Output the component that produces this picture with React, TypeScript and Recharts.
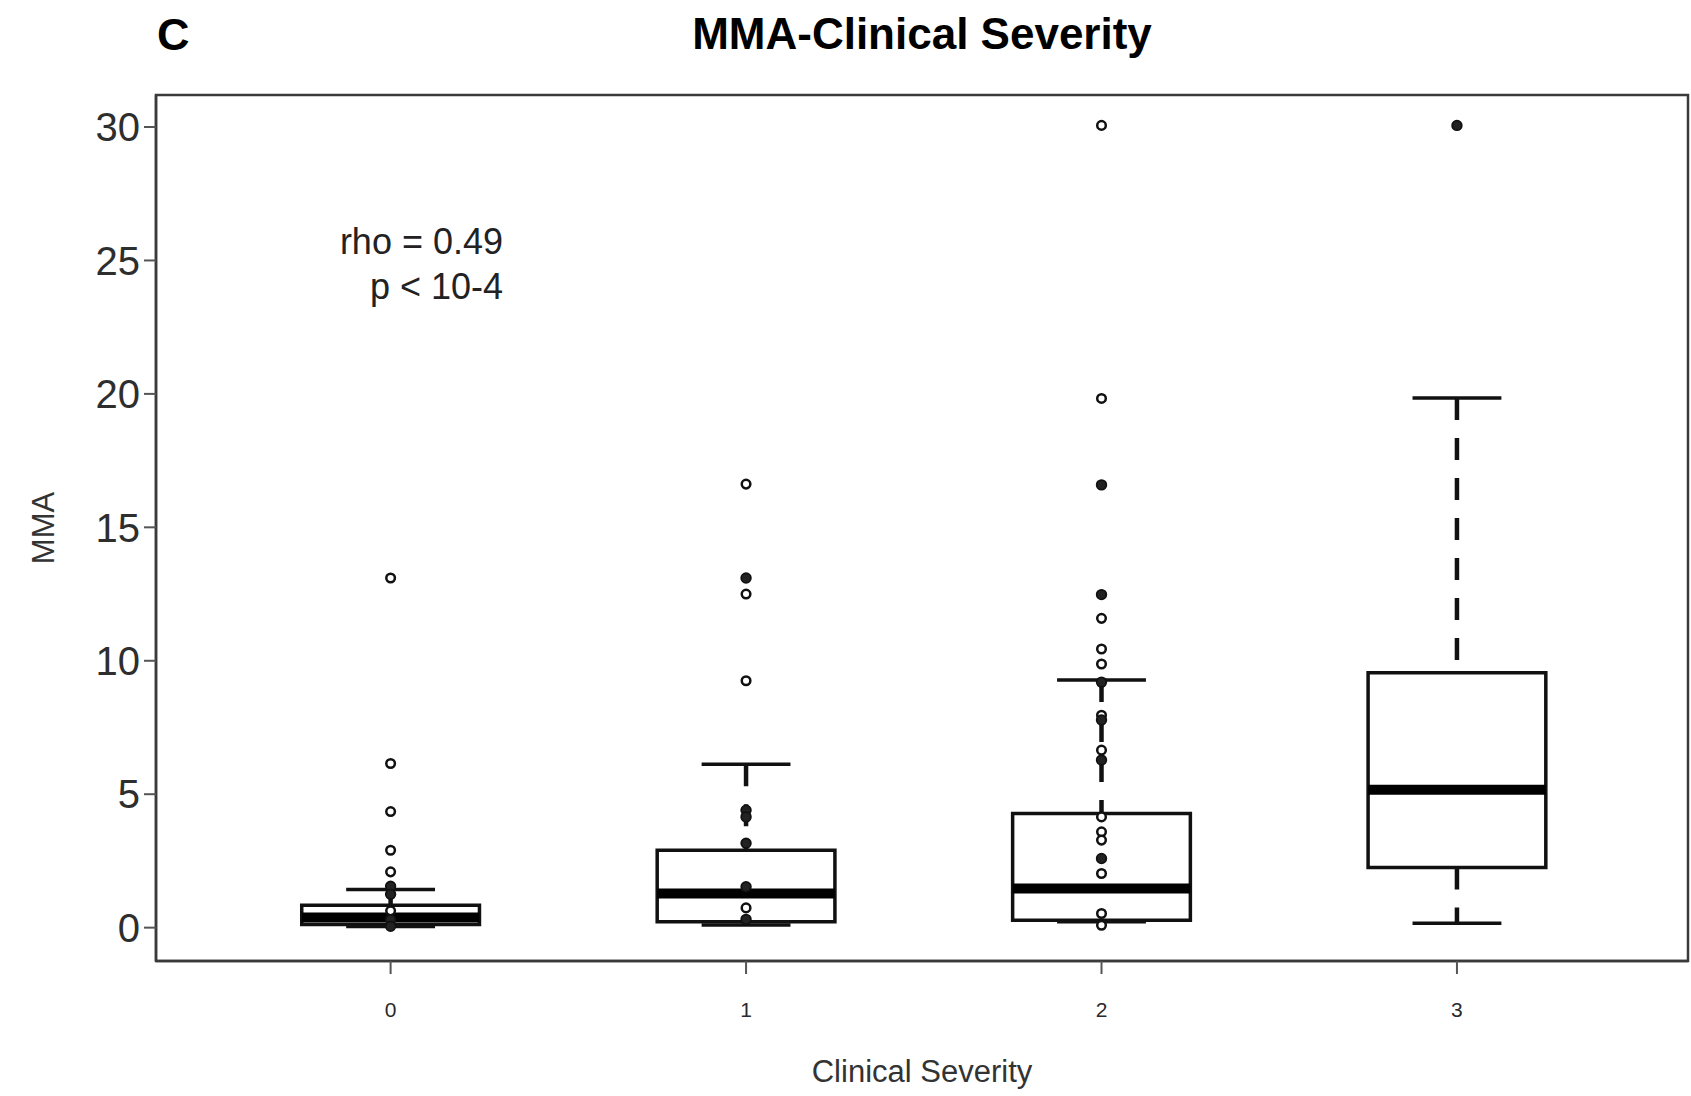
import {
  ComposedChart,
  XAxis,
  YAxis,
  Scatter,
  ReferenceArea,
  ReferenceLine,
} from "recharts";

// clinical severity groups
const categories = ["0", "1", "2", "3"];
const yTicks = [0, 5, 10, 15, 20, 25, 30];

// box statistics per group (MMA)
const lowerWhisker = [0.04, 0.1, 0.22, 0.16];
const q1 = [0.12, 0.22, 0.28, 2.25];
const median = [0.38, 1.28, 1.47, 5.17];
const q3 = [0.84, 2.9, 4.28, 9.55];
const upperWhisker = [1.43, 6.12, 9.28, 19.85];

// individual observations drawn over the boxes
const openPoints = [
  [13.1, 6.15, 4.35, 2.9, 2.09, 0.63],
  [16.62, 12.5, 9.25, 0.74],
  [30.06, 19.83, 11.59, 10.44, 9.88, 7.96, 6.65, 4.15, 3.59, 3.28, 2.03, 0.53, 0.09],
  [],
];
const solidPoints = [
  [1.55, 1.25, 0.3, 0.05],
  [13.1, 4.4, 4.15, 3.16, 1.53, 0.31],
  [16.59, 12.48, 9.2, 7.78, 6.28, 2.59],
  [30.06],
];

const X_DOMAIN: [number, number] = [-0.66, 3.65];
const Y_DOMAIN: [number, number] = [-1.25, 31.2];
const BOX_HALF = 0.25;
const CAP_HALF = 0.125;
const FONT = "'Liberation Sans', Arial, Helvetica, sans-serif";
const INK = "#111";

const toXY = (groups: number[][]) =>
  groups.flatMap((vals, i) => vals.map((v) => ({ x: i, y: v })));

const openData = toXY(openPoints);
const solidData = toXY(solidPoints);

export default function App() {
  return (
    <div
      style={{
        position: "absolute",
        left: 0,
        top: 0,
        width: 1691,
        height: 1096,
        background: "#fff",
      }}
    >
      <ComposedChart
        width={1691}
        height={1096}
        margin={{ top: 95, right: 3, bottom: 0, left: 0 }}
      >
        <XAxis
          type="number"
          dataKey="x"
          domain={X_DOMAIN}
          allowDataOverflow
          ticks={[0, 1, 2, 3]}
          tickFormatter={(v: number) => categories[v] ?? ""}
          height={135}
          tickSize={13}
          tickMargin={28}
          tick={{ fontSize: 21, fill: "#2a2a2a", fontFamily: FONT }}
          axisLine={{ stroke: "#3a3a3a", strokeWidth: 2.5 }}
          tickLine={{ stroke: "#555", strokeWidth: 2 }}
        />
        <YAxis
          type="number"
          dataKey="y"
          domain={Y_DOMAIN}
          allowDataOverflow
          ticks={yTicks}
          width={156}
          tickSize={12}
          tickMargin={4}
          tick={{ fontSize: 40, fill: "#2e2e2e", fontFamily: FONT }}
          axisLine={{ stroke: "#3a3a3a", strokeWidth: 2.5 }}
          tickLine={{ stroke: "#555", strokeWidth: 2 }}
        />

        {/* plot frame */}
        <ReferenceArea
          x1={X_DOMAIN[0]}
          x2={X_DOMAIN[1]}
          y1={Y_DOMAIN[0]}
          y2={Y_DOMAIN[1]}
          fill="none"
          stroke="#3a3a3a"
          strokeWidth={2.5}
          ifOverflow="visible"
        />

        {categories.map((_, i) => (
          <ReferenceArea
            key={`box-${i}`}
            x1={i - BOX_HALF}
            x2={i + BOX_HALF}
            y1={q1[i]}
            y2={q3[i]}
            fill="#fff"
            fillOpacity={1}
            stroke={INK}
            strokeWidth={3.5}
          />
        ))}

        {categories.map((_, i) => (
          <ReferenceLine
            key={`up-${i}`}
            segment={[
              { x: i, y: upperWhisker[i] },
              { x: i, y: q3[i] },
            ]}
            stroke={INK}
            strokeWidth={4.5}
            strokeDasharray="22 18"
          />
        ))}
        {categories.map((_, i) => (
          <ReferenceLine
            key={`lo-${i}`}
            segment={[
              { x: i, y: q1[i] },
              { x: i, y: lowerWhisker[i] },
            ]}
            stroke={INK}
            strokeWidth={4.5}
            strokeDasharray="22 18"
          />
        ))}
        {categories.map((_, i) => (
          <ReferenceLine
            key={`capu-${i}`}
            segment={[
              { x: i - CAP_HALF, y: upperWhisker[i] },
              { x: i + CAP_HALF, y: upperWhisker[i] },
            ]}
            stroke={INK}
            strokeWidth={3.5}
          />
        ))}
        {categories.map((_, i) => (
          <ReferenceLine
            key={`capl-${i}`}
            segment={[
              { x: i - CAP_HALF, y: lowerWhisker[i] },
              { x: i + CAP_HALF, y: lowerWhisker[i] },
            ]}
            stroke={INK}
            strokeWidth={3.5}
          />
        ))}
        {categories.map((_, i) => (
          <ReferenceLine
            key={`med-${i}`}
            segment={[
              { x: i - BOX_HALF, y: median[i] },
              { x: i + BOX_HALF, y: median[i] },
            ]}
            stroke="#000"
            strokeWidth={10}
          />
        ))}

        <Scatter
          data={openData}
          dataKey="y"
          isAnimationActive={false}
          shape={(p: any) => (
            <circle cx={p.cx} cy={p.cy} r={4.3} fill="#fff" stroke={INK} strokeWidth={2.5} />
          )}
        />
        <Scatter
          data={solidData}
          dataKey="y"
          isAnimationActive={false}
          shape={(p: any) => (
            <circle cx={p.cx} cy={p.cy} r={4.8} fill="#222" stroke={INK} strokeWidth={1.8} />
          )}
        />
      </ComposedChart>

      {/* titles and annotations */}
      <svg
        width={1691}
        height={1096}
        style={{ position: "absolute", left: 0, top: 0, pointerEvents: "none" }}
      >
        <text x={157} y={50} fontFamily={FONT} fontWeight="bold" fontSize={45} fill="#000">
          C
        </text>
        <text
          x={922}
          y={49}
          textAnchor="middle"
          fontFamily={FONT}
          fontWeight="bold"
          fontSize={44}
          fill="#000"
        >
          MMA-Clinical Severity
        </text>
        <text x={503} y={254} textAnchor="end" fontFamily={FONT} fontSize={36} fill="#222">
          rho = 0.49
        </text>
        <text x={503} y={299} textAnchor="end" fontFamily={FONT} fontSize={36} fill="#222">
          p &lt; 10-4
        </text>
        <text
          x={922}
          y={1082}
          textAnchor="middle"
          fontFamily={FONT}
          fontSize={31}
          fill="#333"
        >
          Clinical Severity
        </text>
        <text
          x={54}
          y={528}
          transform="rotate(-90 54 528)"
          textAnchor="middle"
          fontFamily={FONT}
          fontSize={31}
          fill="#333"
        >
          MMA
        </text>
      </svg>
    </div>
  );
}
